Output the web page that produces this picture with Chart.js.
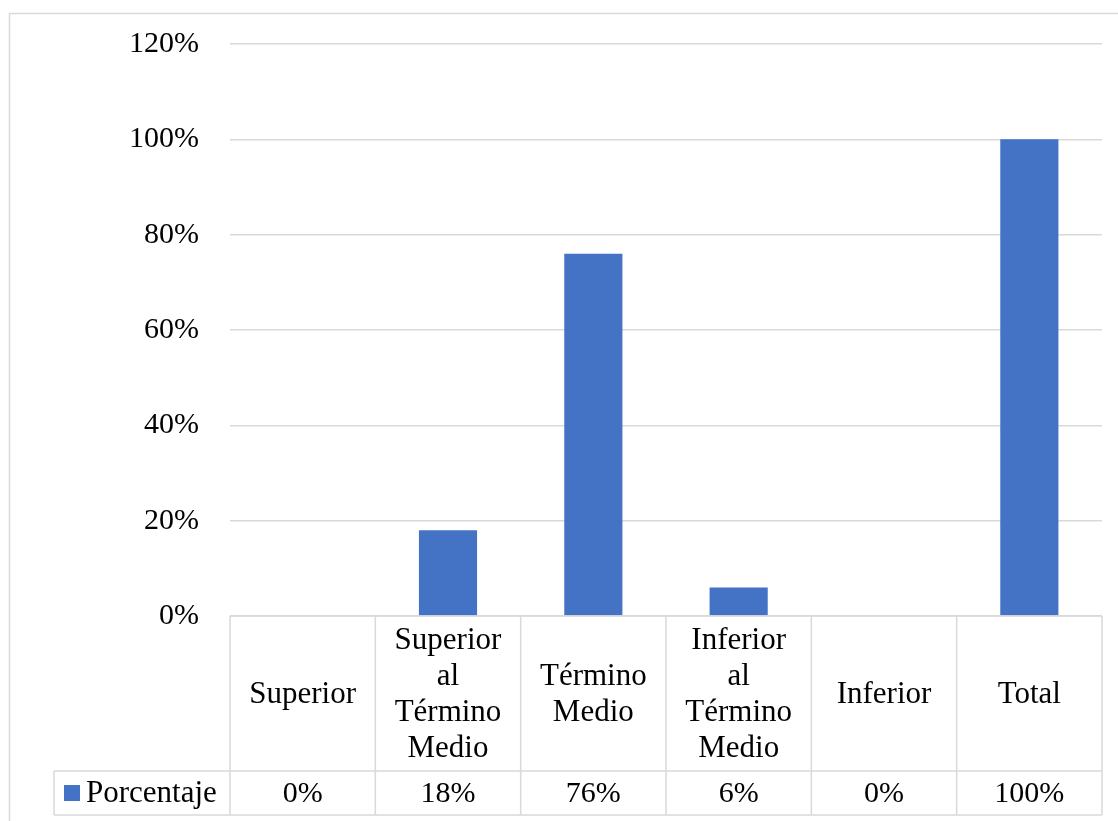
<!DOCTYPE html>
<html>
<head>
<meta charset="utf-8">
<title>Porcentaje</title>
<script src="https://cdn.jsdelivr.net/npm/chart.js@4"></script>
<style>
  body { margin: 0; background: #ffffff; }
</style>
</head>
<body>
<canvas id="chart" width="1118" height="821"></canvas>
<script>
// data
const categories = [
    ["Superior"],
    ["Superior", "al", "Término", "Medio"],
    ["Término", "Medio"],
    ["Inferior", "al", "Término", "Medio"],
    ["Inferior"],
    ["Total"]
];
const porcentaje = [0, 18, 76, 6, 0, 100];
const seriesName = "Porcentaje";
const yTicks = [0, 20, 40, 60, 80, 100, 120];

const FONT = "'Liberation Serif', 'Times New Roman', serif";
const BAR_COLOR = "#4472C4";
const LINE_COLOR = "#D9D9D9";

// draws the outer chart frame and the data table under the plot
const dataTable = {
    id: "dataTable",
    beforeDraw(chart) {
        const ctx = chart.ctx;
        ctx.save();
        ctx.fillStyle = "#ffffff";
        ctx.fillRect(0, 0, chart.width, chart.height);
        ctx.strokeStyle = LINE_COLOR;
        ctx.lineWidth = 1.5;
        ctx.strokeRect(9.5, 13.5, chart.width + 50, chart.height + 50);
        ctx.restore();
    },
    afterDraw(chart) {
        const ctx = chart.ctx;
        const area = chart.chartArea;
        const n = categories.length;
        const colW = (area.right - area.left) / n;
        const top = area.bottom;
        const rowSplit = top + 155;
        const bottom = rowSplit + 44;
        const legendLeft = 54;

        ctx.save();
        ctx.strokeStyle = LINE_COLOR;
        ctx.lineWidth = 1.5;
        ctx.beginPath();
        // horizontal lines
        ctx.moveTo(area.left, top); ctx.lineTo(area.right, top);
        ctx.moveTo(legendLeft, rowSplit); ctx.lineTo(area.right, rowSplit);
        ctx.moveTo(legendLeft, bottom); ctx.lineTo(area.right, bottom);
        // vertical lines
        for (let i = 0; i <= n; i++) {
            const x = area.left + i * colW;
            ctx.moveTo(x, top); ctx.lineTo(x, bottom);
        }
        ctx.moveTo(legendLeft, rowSplit); ctx.lineTo(legendLeft, bottom);
        ctx.stroke();

        ctx.fillStyle = "#000000";
        ctx.textAlign = "center";
        ctx.textBaseline = "middle";
        const lineH = 36;
        const headMid = (top + rowSplit) / 2 + 1;
        const valMid = (rowSplit + bottom) / 2 + 1;
        categories.forEach((lines, i) => {
            const cx = chart.scales.x.getPixelForValue(i);
            const startY = headMid - (lines.length - 1) * lineH / 2;
            ctx.font = "31px " + FONT;
            lines.forEach((t, j) => ctx.fillText(t, cx, startY + j * lineH));
            ctx.font = "30px " + FONT;
            ctx.fillText(porcentaje[i] + "%", cx, valMid);
        });

        // legend key inside the table
        ctx.fillStyle = BAR_COLOR;
        ctx.fillRect(64, valMid - 9, 16, 16);
        ctx.fillStyle = "#000000";
        ctx.textAlign = "left";
        ctx.font = "31px " + FONT;
        ctx.fillText(seriesName, 86, valMid);
        ctx.restore();
    }
};

const ctx = document.getElementById("chart").getContext("2d");
new Chart(ctx, {
    type: "bar",
    data: {
        labels: categories,
        datasets: [{
            label: seriesName,
            data: porcentaje,
            backgroundColor: BAR_COLOR,
            barPercentage: 0.4,
            categoryPercentage: 1.0
        }]
    },
    options: {
        responsive: false,
        animation: false,
        layout: { padding: { left: 0, top: 44, right: 16, bottom: 205 } },
        plugins: {
            legend: { display: false },
            tooltip: { enabled: false }
        },
        scales: {
            x: {
                display: false,
                grid: { display: false }
            },
            y: {
                min: 0,
                max: 120,
                afterBuildTicks: axis => { axis.ticks = yTicks.map(v => ({ value: v })); },
                afterFit: axis => {
                    axis.width = 230;
                    axis.paddingTop = 0;
                    axis.paddingBottom = 0;
                },
                border: { display: false },
                grid: { color: LINE_COLOR, lineWidth: 1.5, drawTicks: false },
                ticks: {
                    padding: 31,
                    color: "#000000",
                    font: { family: FONT, size: 30 },
                    callback: v => v + "%"
                }
            }
        }
    },
    plugins: [dataTable]
});
</script>
</body>
</html>
